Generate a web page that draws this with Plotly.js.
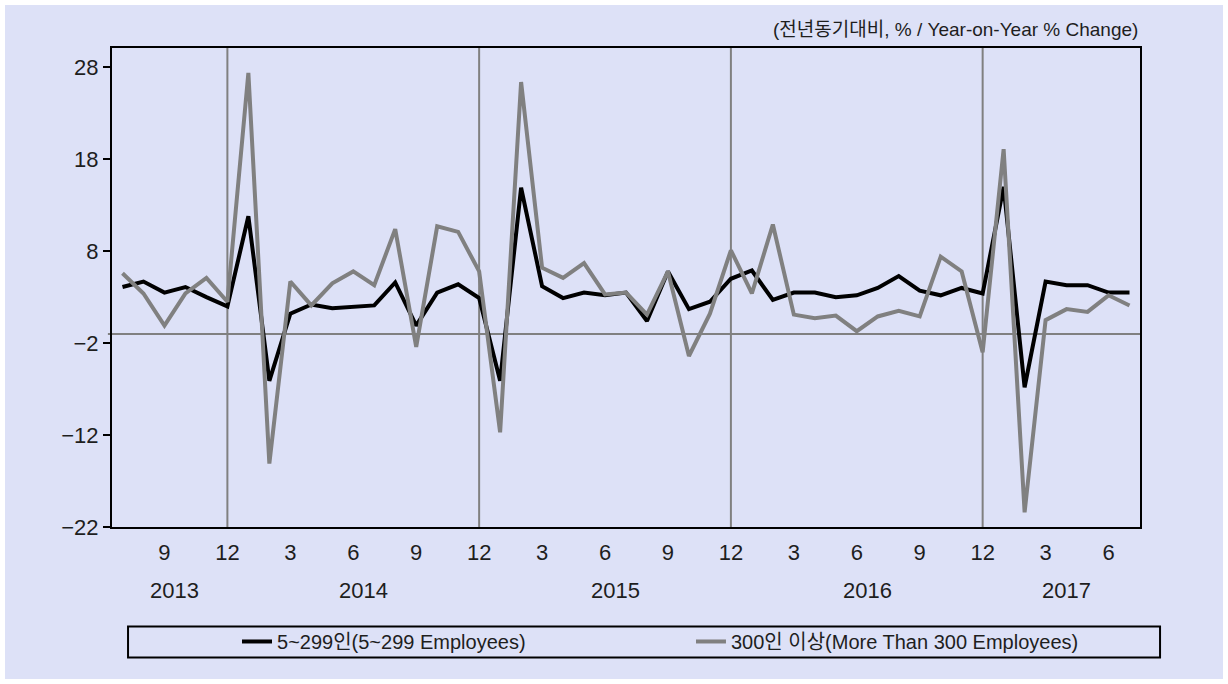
<!DOCTYPE html>
<html>
<head>
<meta charset="utf-8">
<script src="https://cdn.plot.ly/plotly-3.0.1.min.js"></script>
<style>
  html, body { margin: 0; padding: 0; background: #ffffff; }
  #wrap { position: relative; width: 1228px; height: 684px; background: #ffffff; overflow: hidden; }
  #chart { position: absolute; left: 5px; top: 5px; width: 1218px; height: 674px; }
</style>
</head>
<body>
<div id="wrap"><div id="chart"></div></div>
<script>
// ---- Data (year-on-year % change) ----
const months = [
  "2013.07","2013.08","2013.09","2013.10","2013.11","2013.12",
  "2014.01","2014.02","2014.03","2014.04","2014.05","2014.06","2014.07","2014.08","2014.09","2014.10","2014.11","2014.12",
  "2015.01","2015.02","2015.03","2015.04","2015.05","2015.06","2015.07","2015.08","2015.09","2015.10","2015.11","2015.12",
  "2016.01","2016.02","2016.03","2016.04","2016.05","2016.06","2016.07","2016.08","2016.09","2016.10","2016.11","2016.12",
  "2017.01","2017.02","2017.03","2017.04","2017.05","2017.06","2017.07"
];
const small = [
  4.1, 4.7, 3.5, 4.1, 3.0, 2.0,
  11.8, -6.1, 1.2, 2.2, 1.8, 1.9, 2.1, 4.6, -0.1, 3.5, 4.4, 2.9,
  -6.1, 14.9, 4.2, 2.9, 3.5, 3.2, 3.5, 0.4, 5.8, 1.7, 2.5, 5.0,
  5.9, 2.7, 3.5, 3.5, 3.0, 3.2, 4.0, 5.3, 3.7, 3.2, 4.0,
  3.4, 15.0, -6.8, 4.7, 4.3, 4.3, 3.5, 3.5
];
const large = [
  5.6, 3.4, -0.1, 3.4, 5.1, 2.5,
  27.4, -15.1, 4.7, 2.1, 4.5, 5.8, 4.3, 10.4, -2.4, 10.7, 10.1, 5.8,
  -11.7, 26.4, 6.2, 5.1, 6.7, 3.3, 3.5, 1.1, 5.8, -3.4, 1.2, 8.1,
  3.4, 10.9, 1.1, 0.7, 1.0, -0.7, 0.9, 1.5, 0.9, 7.4, 5.8,
  -3.0, 19.1, -20.4, 0.5, 1.7, 1.4, 3.2, 2.1
];
const seriesNames = ["5~299인(5~299 Employees)", "300인 이상(More Than 300 Employees)"];
const unitNote = "(전년동기대비, % / Year-on-Year % Change)";
const yTicks = [-22, -12, -2, 8, 18, 28];
const refLineValue = -1;

// ---- Derived axis helpers ----
const idx = months.map((_, i) => i);
const monthNum = months.map(m => parseInt(m.split(".")[1], 10));
const yearOf = months.map(m => m.split(".")[0]);
const tickvals = idx.filter(i => monthNum[i] % 3 === 0);
const ticktext = tickvals.map(i => String(monthNum[i]));
const decIdx = idx.filter(i => monthNum[i] === 12);
const years = [...new Set(yearOf)];
const yearCenters = years.map(y => {
  const ii = idx.filter(i => yearOf[i] === y);
  return (ii[0] + ii[ii.length - 1]) / 2;
});

const FONT = '"Liberation Sans", "Noto Sans CJK KR", Arial, sans-serif';
const BG = '#dde1f7';
const TXT = '#1e1e1e';

const traces = [
  { x: idx, y: small, type: 'scatter', mode: 'lines', name: seriesNames[0], legend: 'legend',
    line: { color: '#000000', width: 4 } },
  { x: idx, y: large, type: 'scatter', mode: 'lines', name: seriesNames[1], legend: 'legend2',
    line: { color: '#808080', width: 4 } }
];

const shapes = [];
decIdx.forEach(i => shapes.push({
  type: 'line', xref: 'x', yref: 'paper', x0: i, x1: i, y0: 0, y1: 1,
  line: { color: '#808080', width: 2 }, layer: 'below'
}));
shapes.push({
  type: 'line', xref: 'paper', yref: 'y', x0: -0.004, x1: 1, y0: refLineValue, y1: refLineValue,
  line: { color: '#808080', width: 2 }, layer: 'below'
});
// legend frame
shapes.push({
  type: 'rect', xref: 'paper', yref: 'paper', x0: 0.0156, x1: 1.0195, y0: -0.2724, y1: -0.2076,
  line: { color: '#000000', width: 2 }, fillcolor: 'rgba(0,0,0,0)'
});

const annotations = years.map((y, k) => ({
  text: y, xref: 'x', yref: 'paper', x: yearCenters[k], y: -0.132,
  showarrow: false, xanchor: 'center', yanchor: 'middle',
  font: { family: FONT, size: 22, color: TXT }
}));
annotations.push({
  text: unitNote, xref: 'paper', yref: 'paper', x: 1.0, y: 1.0, yshift: 6,
  showarrow: false, xanchor: 'right', yanchor: 'bottom',
  font: { family: FONT, size: 19, color: TXT }
});

const legendCommon = {
  orientation: 'h', xanchor: 'left', y: -0.239, yanchor: 'middle',
  bgcolor: 'rgba(0,0,0,0)', borderwidth: 0,
  font: { family: FONT, size: 20, color: TXT }
};

const layout = {
  width: 1218, height: 674,
  margin: { l: 107, r: 83, t: 43, b: 152 },
  paper_bgcolor: BG, plot_bgcolor: BG,
  font: { family: FONT, size: 22, color: TXT },
  showlegend: true,
  legend: Object.assign({}, legendCommon, { x: 0.1216 }),
  legend2: Object.assign({}, legendCommon, { x: 0.5632 }),
  xaxis: {
    range: [-0.5, 48.5], tickvals: tickvals, ticktext: ticktext,
    showgrid: false, zeroline: false, showline: true, mirror: true,
    linecolor: '#000000', linewidth: 2, ticks: '', ticklabelstandoff: 5,
    tickfont: { family: FONT, size: 22, color: TXT }, fixedrange: true
  },
  yaxis: {
    range: [-22, 30.1], tickvals: yTicks, ticktext: yTicks.map(v => v < 0 ? '\u2212' + Math.abs(v) : String(v)),
    showgrid: false, zeroline: false, showline: true, mirror: true,
    linecolor: '#000000', linewidth: 2, ticks: 'outside', ticklen: 7, tickwidth: 2, tickcolor: '#000000',
    tickfont: { family: FONT, size: 22, color: TXT }, fixedrange: true
  },
  shapes: shapes,
  annotations: annotations
};

Plotly.newPlot('chart', traces, layout, { displayModeBar: false, staticPlot: true });
</script>
</body>
</html>
